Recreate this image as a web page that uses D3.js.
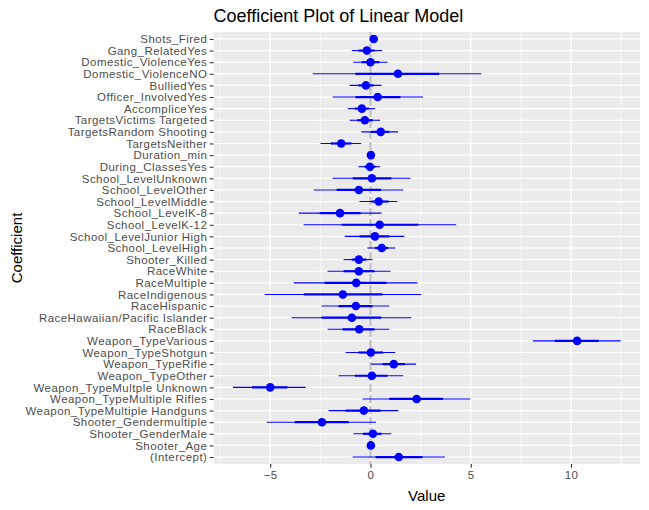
<!DOCTYPE html>
<html>
<head>
<meta charset="utf-8">
<script src="https://cdn.jsdelivr.net/npm/d3@7"></script>
<style>
    body { margin: 0; background: #ffffff; }
    svg text { font-family: "Liberation Sans", Arial, sans-serif; }
</style>
</head>
<body>
<div id="chart"></div>
<script>
// coefficient names, top to bottom as drawn
const coefNames = ["Shots_Fired", "Gang_RelatedYes", "Domestic_ViolenceYes", "Domestic_ViolenceNO",
    "BulliedYes", "Officer_InvolvedYes", "AccompliceYes", "TargetsVictims Targeted",
    "TargetsRandom Shooting", "TargetsNeither", "Duration_min", "During_ClassesYes",
    "School_LevelUnknown", "School_LevelOther", "School_LevelMiddle", "School_LevelK-8",
    "School_LevelK-12", "School_LevelJunior High", "School_LevelHigh", "Shooter_Killed",
    "RaceWhite", "RaceMultiple", "RaceIndigenous", "RaceHispanic",
    "RaceHawaiian/Pacific Islander", "RaceBlack", "Weapon_TypeVarious", "Weapon_TypeShotgun",
    "Weapon_TypeRifle", "Weapon_TypeOther", "Weapon_TypeMultple Unknown", "Weapon_TypeMultiple Rifles",
    "Weapon_TypeMultiple Handguns", "Shooter_Gendermultiple", "Shooter_GenderMale", "Shooter_Age",
    "(Intercept)"];

const coefValues = [0.16, -0.18, 0.0, 1.37, -0.23, 0.36, -0.43, -0.28, 0.51, -1.46, 0.02, -0.03,
    0.07, -0.58, 0.41, -1.52, 0.46, 0.22, 0.56, -0.58, -0.58, -0.71, -1.38, -0.73, -0.93, -0.56,
    10.3, 0.02, 1.16, 0.07, -5.0, 2.3, -0.33, -2.42, 0.12, 0.02, 1.41];

// 1 SE band
const innerLow = [0.12, -0.6, -0.45, -0.75, -0.6, -0.75, -0.78, -0.66, 0.02, -1.98, 0.01, -0.3,
    -0.88, -1.69, 0.05, -2.53, -1.44, -0.55, 0.22, -0.93, -1.34, -2.29, -3.33, -1.59, -2.44, -1.39,
    9.19, -0.6, 0.6, -0.78, -5.91, 0.94, -1.24, -3.78, -0.38, 0.0, 0.25];
const innerHigh = [0.2, 0.2, 0.45, 3.43, 0.15, 1.49, -0.08, 0.12, 0.94, -0.96, 0.03, 0.25,
    1.04, 0.53, 0.9, -0.5, 2.39, 0.94, 0.88, -0.2, 0.2, 0.8, 0.6, 0.1, 0.53, 0.2,
    11.38, 0.63, 1.72, 0.85, -4.14, 3.61, 0.5, -1.09, 0.55, 0.04, 2.59];

// 2 SE band
const outerLow = [0.08, -0.93, -0.85, -2.88, -1.04, -1.89, -1.14, -1.04, -0.45, -2.49, 0.0, -0.6,
    -1.89, -2.83, -0.55, -3.58, -3.33, -1.29, -0.15, -1.34, -2.14, -3.83, -5.27, -2.44, -3.93, -2.14,
    8.1, -1.24, 0.02, -1.59, -6.86, -0.4, -2.09, -5.17, -0.85, -0.01, -0.89];
const outerHigh = [0.24, 0.58, 0.85, 5.52, 0.55, 2.62, 0.23, 0.48, 1.37, -0.47, 0.04, 0.48,
    1.99, 1.64, 1.34, 0.55, 4.27, 1.69, 1.23, 0.1, 1.0, 2.34, 2.53, 0.94, 2.04, 0.94,
    12.47, 1.23, 2.27, 1.64, -3.23, 4.97, 1.39, 0.28, 1.04, 0.05, 3.71];

const xTicks = [-5, 0, 5, 10];
const xMinorTicks = [-7.5, -2.5, 2.5, 7.5, 12.5];

const coefData = coefNames.map((name, i) => ({
    name: name,
    value: coefValues[i],
    lo1: innerLow[i], hi1: innerHigh[i],
    lo2: outerLow[i], hi2: outerHigh[i]
}));

// drawing area
const width = 649, height = 510;
const margin = {top: 32, right: 9, bottom: 46, left: 213.5};
const innerW = width - margin.left - margin.right;
const innerH = height - margin.top - margin.bottom;

const svg = d3.select("#chart").append("svg")
    .attr("width", width)
    .attr("height", height);

// x domain with 5% expansion like ggplot
let lo = d3.min(outerLow), hi = d3.max(outerHigh);
let pad = (hi - lo) * 0.05;
const x = d3.scaleLinear().domain([lo - pad, hi + pad]).range([0, innerW]);

const y = d3.scalePoint().domain(coefNames).range([0, innerH]).padding(0.6);

const g = svg.append("g").attr("transform", `translate(${margin.left},${margin.top})`);

// panel background
g.append("rect")
    .attr("width", innerW).attr("height", innerH)
    .attr("fill", "#EBEBEB");

// grid lines
g.selectAll(".minor-x").data(xMinorTicks.filter(d => x(d) >= 0 && x(d) <= innerW))
    .enter().append("line")
    .attr("x1", d => x(d)).attr("x2", d => x(d))
    .attr("y1", 0).attr("y2", innerH)
    .attr("stroke", "#fff").attr("stroke-width", 0.6);

g.selectAll(".major-x").data(xTicks)
    .enter().append("line")
    .attr("x1", d => x(d)).attr("x2", d => x(d))
    .attr("y1", 0).attr("y2", innerH)
    .attr("stroke", "#fff").attr("stroke-width", 1.2);

g.selectAll(".major-y").data(coefNames)
    .enter().append("line")
    .attr("x1", 0).attr("x2", innerW)
    .attr("y1", d => y(d)).attr("y2", d => y(d))
    .attr("stroke", "#fff").attr("stroke-width", 1.2);

// zero reference line
g.append("line")
    .attr("x1", x(0)).attr("x2", x(0))
    .attr("y1", 0).attr("y2", innerH)
    .attr("stroke", "#BEBEBE")
    .attr("stroke-width", 2)
    .attr("stroke-dasharray", "8,3");

// outer interval
g.selectAll(".outer").data(coefData)
    .enter().append("line")
    .attr("x1", d => x(d.lo2)).attr("x2", d => x(d.hi2))
    .attr("y1", d => y(d.name)).attr("y2", d => y(d.name))
    .attr("stroke", "#0000FF").attr("stroke-width", 1.1);

// inner interval
g.selectAll(".inner").data(coefData)
    .enter().append("line")
    .attr("x1", d => x(d.lo1)).attr("x2", d => x(d.hi1))
    .attr("y1", d => y(d.name)).attr("y2", d => y(d.name))
    .attr("stroke", "#0000FF").attr("stroke-width", 2.2);

// points
g.selectAll(".point").data(coefData)
    .enter().append("circle")
    .attr("cx", d => x(d.value))
    .attr("cy", d => y(d.name))
    .attr("r", 4.3)
    .attr("fill", "#0000FF");

// axes
const xAxis = g.append("g")
    .attr("transform", `translate(0,${innerH})`)
    .call(d3.axisBottom(x).tickValues(xTicks).tickSize(3.7).tickPadding(3));
const yAxis = g.append("g")
    .call(d3.axisLeft(y).tickSize(3.7).tickPadding(2.5));

[xAxis, yAxis].forEach(ax => {
    ax.select(".domain").remove();
    ax.selectAll(".tick line").attr("stroke", "#333333").attr("stroke-width", 1.1);
    ax.selectAll(".tick text")
        .attr("fill", "#4D4D4D")
        .style("font-size", "11.5px")
        .style("letter-spacing", "0.45px");
});

// titles
svg.append("text")
    .attr("x", margin.left)
    .attr("y", 22)
    .style("font-size", "18px")
    .attr("fill", "#000")
    .text("Coefficient Plot of Linear Model");

svg.append("text")
    .attr("x", margin.left + innerW / 2)
    .attr("y", 500.5)
    .attr("text-anchor", "middle")
    .style("font-size", "15px")
    .attr("fill", "#000")
    .text("Value");

svg.append("text")
    .attr("transform", `translate(21.5,${margin.top + innerH / 2}) rotate(-90)`)
    .attr("text-anchor", "middle")
    .style("font-size", "15px")
    .attr("fill", "#000")
    .text("Coefficient");
</script>
</body>
</html>
